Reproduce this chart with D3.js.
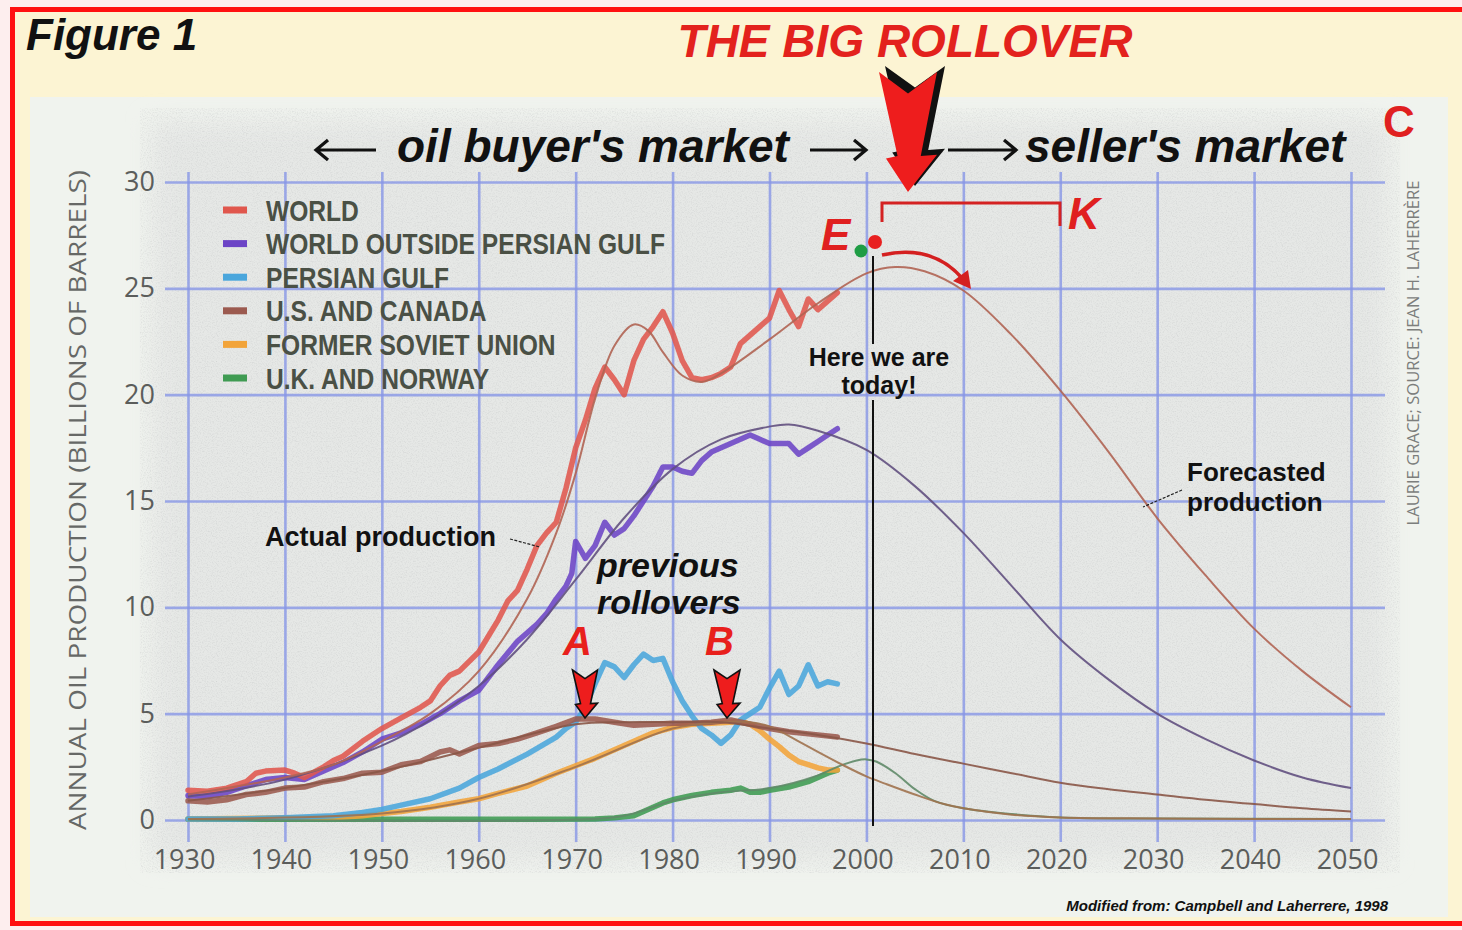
<!DOCTYPE html>
<html>
<head>
<meta charset="utf-8">
<script src="https://cdn.jsdelivr.net/npm/d3@7"></script>
<style>
  html, body { margin: 0; padding: 0; background: #fdeeee; }
  svg { display: block; }
</style>
</head>
<body>
<svg width="1462" height="930"></svg>
<script>
// ---- data (billions of barrels per year) ----
const yearTicks = [1930, 1940, 1950, 1960, 1970, 1980, 1990, 2000, 2010, 2020, 2030, 2040, 2050]
const valueTicks = [0, 5, 10, 15, 20, 25, 30]

const legendNames = ['WORLD', 'WORLD OUTSIDE PERSIAN GULF', 'PERSIAN GULF', 'U.S. AND CANADA', 'FORMER SOVIET UNION', 'U.K. AND NORWAY']
const legendColors = ['#e0574d', '#6c44c6', '#4aa6dc', '#9b5a4f', '#f2a43a', '#3f9b52']

// actual production (thick lines)
const world = [[1930,1.4],[1932,1.35],[1934,1.5],[1936,1.8],[1937,2.2],[1938,2.3],[1940,2.35],[1941,2.2],[1942,2.0],[1944,2.5],[1945,2.8],[1946,3.0],[1948,3.7],[1950,4.3],[1952,4.8],[1954,5.3],[1955,5.6],[1956,6.3],[1957,6.8],[1958,7.0],[1960,7.9],[1962,9.4],[1963,10.3],[1964,10.8],[1965,11.8],[1966,12.9],[1967,13.5],[1968,14.0],[1969,15.6],[1970,17.5],[1971,18.8],[1972,20.3],[1973,21.3],[1974,20.7],[1975,20.0],[1976,21.6],[1977,22.6],[1978,23.2],[1979,23.9],[1980,22.9],[1981,21.6],[1982,20.8],[1983,20.7],[1984,20.8],[1985,21.0],[1986,21.3],[1987,22.4],[1988,22.8],[1989,23.2],[1990,23.6],[1991,24.9],[1992,24.0],[1993,23.2],[1994,24.5],[1995,24.0],[1996,24.4],[1997,24.8]]
const outsideGulf = [[1930,1.15],[1932,1.1],[1934,1.3],[1936,1.6],[1938,1.9],[1940,2.0],[1942,1.9],[1944,2.3],[1946,2.7],[1948,3.2],[1950,3.8],[1952,4.1],[1954,4.5],[1956,5.0],[1958,5.6],[1960,6.1],[1962,7.3],[1964,8.4],[1966,9.2],[1967,9.7],[1968,10.4],[1969,11.0],[1969.6,11.6],[1970,13.1],[1971,12.3],[1972,12.9],[1973,14.0],[1974,13.4],[1975,13.7],[1976,14.3],[1977,15.0],[1978,15.7],[1979,16.6],[1980,16.6],[1981,16.4],[1982,16.3],[1983,16.9],[1984,17.3],[1985,17.5],[1986,17.7],[1987,17.9],[1988,18.1],[1989,17.9],[1990,17.7],[1991,17.7],[1992,17.7],[1993,17.2],[1994,17.5],[1995,17.8],[1996,18.1],[1997,18.4]]
const persianGulf = [[1930,0.05],[1935,0.05],[1940,0.1],[1945,0.2],[1948,0.35],[1950,0.5],[1952,0.7],[1955,1.0],[1958,1.5],[1960,2.0],[1962,2.4],[1965,3.1],[1968,3.9],[1969,4.3],[1970,4.6],[1971,5.3],[1972,6.4],[1973,7.4],[1974,7.2],[1975,6.7],[1976,7.3],[1977,7.8],[1978,7.5],[1979,7.6],[1980,6.5],[1981,5.6],[1982,4.9],[1983,4.3],[1984,4.0],[1985,3.6],[1986,4.0],[1987,4.7],[1988,5.0],[1989,5.3],[1990,6.2],[1991,7.0],[1992,5.9],[1993,6.3],[1994,7.3],[1995,6.3],[1996,6.5],[1997,6.4]]
const usCanada = [[1930,0.9],[1932,0.85],[1934,0.95],[1936,1.2],[1938,1.3],[1940,1.5],[1942,1.55],[1944,1.8],[1946,1.95],[1948,2.2],[1950,2.25],[1952,2.6],[1954,2.75],[1956,3.2],[1957,3.3],[1958,3.1],[1960,3.5],[1962,3.6],[1964,3.8],[1966,4.1],[1968,4.4],[1970,4.75],[1972,4.75],[1974,4.6],[1976,4.45],[1978,4.5],[1980,4.55],[1982,4.55],[1984,4.6],[1986,4.7],[1988,4.5],[1990,4.3],[1992,4.15],[1994,4.05],[1997,3.9]]
const sovietUnion = [[1930,0.05],[1940,0.1],[1945,0.1],[1948,0.2],[1950,0.3],[1952,0.4],[1955,0.6],[1958,0.85],[1960,1.0],[1962,1.25],[1965,1.6],[1968,2.2],[1970,2.55],[1972,2.9],[1974,3.3],[1976,3.7],[1978,4.1],[1980,4.35],[1982,4.5],[1984,4.55],[1986,4.6],[1987,4.65],[1988,4.5],[1989,4.2],[1990,3.8],[1991,3.45],[1992,3.05],[1993,2.75],[1994,2.6],[1995,2.45],[1996,2.35],[1997,2.35]]
const ukNorway = [[1930,0.03],[1965,0.03],[1972,0.05],[1974,0.1],[1976,0.2],[1977,0.4],[1978,0.6],[1979,0.8],[1980,0.95],[1982,1.15],[1984,1.3],[1986,1.4],[1987,1.5],[1988,1.3],[1989,1.3],[1990,1.4],[1992,1.55],[1994,1.8],[1995,2.0],[1996,2.2],[1997,2.35]]

// fitted and forecasted production (thin lines)
const worldFit = [[1930,1.2],[1940,2.0],[1945,2.6],[1950,3.7],[1955,5.0],[1960,7.0],[1965,10.4],[1968,13.5],[1970,16.3],[1972,19.8],[1974,22.3],[1976,23.3],[1977.5,23.0],[1979,22.0],[1981,20.9],[1983,20.6],[1985,21.0],[1990,22.6],[1995,24.3],[2000,25.7],[2003,26.0],[2006,25.8],[2010,24.9],[2015,22.8],[2020,20.2],[2025,17.3],[2030,14.2],[2035,11.5],[2040,9.0],[2045,7.0],[2050,5.3]]
const outsideGulfFit = [[1930,1.1],[1940,1.9],[1950,3.5],[1955,4.7],[1960,6.3],[1965,8.5],[1970,11.3],[1975,14.2],[1980,16.5],[1985,17.9],[1990,18.5],[1992,18.6],[1995,18.3],[2000,17.4],[2005,15.7],[2010,13.5],[2015,11.0],[2020,8.5],[2025,6.6],[2030,5.0],[2035,3.8],[2040,2.8],[2045,2.0],[2050,1.5]]
const usCanadaFit = [[1930,0.9],[1940,1.5],[1950,2.3],[1960,3.4],[1970,4.5],[1975,4.6],[1980,4.6],[1985,4.6],[1990,4.3],[1995,4.0],[2000,3.6],[2005,3.1],[2010,2.65],[2015,2.2],[2020,1.75],[2025,1.45],[2030,1.2],[2035,0.95],[2040,0.75],[2045,0.55],[2050,0.4]]
const sovietUnionFit = [[1930,0.05],[1950,0.3],[1960,1.0],[1970,2.5],[1980,4.3],[1985,4.6],[1988,4.6],[1990,4.4],[1993,3.7],[1995,3.2],[1997.5,2.6],[2000,2.05],[2002,1.7],[2005,1.2],[2008,0.75],[2010,0.55],[2015,0.25],[2020,0.12],[2030,0.07],[2040,0.05],[2050,0.05]]
const ukNorwayFit = [[1930,0.02],[1970,0.02],[1975,0.2],[1980,0.9],[1985,1.3],[1990,1.5],[1995,2.1],[1997,2.5],[1999,2.8],[2000,2.85],[2001,2.75],[2003,2.2],[2005,1.45],[2007,0.9],[2010,0.55],[2015,0.28],[2020,0.12],[2030,0.07],[2050,0.05]]

const actualSeries = [ukNorway, sovietUnion, persianGulf, usCanada, outsideGulf, world]
const actualColors = ['#3f9b52', '#f2a43a', '#4aa6dc', '#9b5a4f', '#6c44c6', '#e0574d']
const fitSeries = [ukNorwayFit, sovietUnionFit, usCanadaFit, outsideGulfFit, worldFit]
const fitColors = ['#5f8a68', '#a0724e', '#8a5647', '#62507f', '#b06453']

const svg = d3.select('svg')
const defs = svg.append('defs')

// paper grain
const grain = defs.append('filter').attr('id', 'grain')
  .attr('filterUnits', 'userSpaceOnUse')
  .attr('x', 140).attr('y', 108).attr('width', 1260).attr('height', 765)
grain.append('feTurbulence').attr('type', 'fractalNoise').attr('baseFrequency', 0.8)
  .attr('numOctaves', 3).attr('seed', 7).attr('result', 'noise')
grain.append('feColorMatrix').attr('type', 'matrix')
  .attr('values', '0 0 0 0 0.45  0 0 0 0 0.46  0 0 0 0 0.47  1.6 0 0 0 -0.7')
defs.append('filter').attr('id', 'soft')
  .attr('filterUnits', 'userSpaceOnUse')
  .attr('x', 0).attr('y', 0).attr('width', 1462).attr('height', 930)
  .append('feGaussianBlur').attr('stdDeviation', 12)

// backgrounds
svg.append('rect').attr('x', 13).attr('y', 9).attr('width', 1460).attr('height', 915).attr('fill', '#fcf4d3')
svg.append('rect').attr('x', 30).attr('y', 97).attr('width', 1418).attr('height', 820).attr('fill', '#f0f3ee')
svg.append('rect').attr('x', 152).attr('y', 122).attr('width', 1236).attr('height', 738)
  .attr('fill', '#e6e8e6').attr('filter', 'url(#soft)')
svg.append('rect').attr('x', 140).attr('y', 108).attr('width', 1260).attr('height', 765)
  .attr('filter', 'url(#grain)').attr('opacity', 0.4)

// scales
const x = d3.scaleLinear().domain([1930, 2050]).range([188, 1351])
const y = d3.scaleLinear().domain([0, 30]).range([820, 182])

// grid + axes
const yAxis = svg.append('g')
  .attr('transform', 'translate(1385,0)')
  .call(d3.axisLeft(y).tickValues(valueTicks).tickSize(1220).tickPadding(10))
const xAxis = svg.append('g')
  .attr('transform', 'translate(0,172)')
  .call(d3.axisBottom(x).tickValues(yearTicks).tickFormat(d3.format('d')).tickSize(670).tickPadding(8))
;[xAxis, yAxis].forEach(function (g) {
  g.select('.domain').remove()
  g.selectAll('line').attr('stroke', '#8796e6').attr('stroke-width', 2.6).attr('opacity', 0.8)
  g.selectAll('text').attr('font-family', '"Open Sans", sans-serif').attr('font-size', 27).attr('fill', '#5b5d5b')
})
xAxis.selectAll('text').attr('dx', -4)

// lines
const line = d3.line().x(d => x(d[0])).y(d => y(d[1]))
const smooth = d3.line().x(d => x(d[0])).y(d => y(d[1])).curve(d3.curveCatmullRom.alpha(0.5))

svg.append('g').selectAll('path').data(actualSeries).join('path')
  .attr('d', line)
  .attr('fill', 'none')
  .attr('stroke', (d, i) => actualColors[i])
  .attr('stroke-width', 5.5)
  .attr('stroke-linejoin', 'round')
  .attr('stroke-linecap', 'round')
  .attr('opacity', 0.88)

svg.append('g').selectAll('path').data(fitSeries).join('path')
  .attr('d', smooth)
  .attr('fill', 'none')
  .attr('stroke', (d, i) => fitColors[i])
  .attr('stroke-width', 2)
  .attr('opacity', 0.9)

// legend (condensed bold caps)
const legend = svg.append('g')
legendNames.forEach(function (name, i) {
  const yy = 210 + i * 33.6
  legend.append('line').attr('x1', 223).attr('x2', 247).attr('y1', yy).attr('y2', yy)
    .attr('stroke', legendColors[i]).attr('stroke-width', 7)
  legend.append('text')
    .attr('transform', 'translate(266,' + (yy + 10.5) + ') scale(0.82,1)')
    .attr('font-family', '"Liberation Sans", Arial, sans-serif')
    .attr('font-weight', 'bold').attr('font-size', 30).attr('fill', '#4a5045')
    .text(name)
})

// axis titles / credits
svg.append('text')
  .attr('transform', 'translate(86,500) rotate(-90)')
  .attr('text-anchor', 'middle')
  .attr('font-family', '"Open Sans", sans-serif').attr('font-size', 23).attr('fill', '#666866')
  .attr('textLength', 660).attr('lengthAdjust', 'spacingAndGlyphs')
  .text('ANNUAL OIL PRODUCTION (BILLIONS OF BARRELS)')
svg.append('text')
  .attr('transform', 'translate(1419,353) rotate(-90)')
  .attr('text-anchor', 'middle')
  .attr('font-family', '"Open Sans", sans-serif').attr('font-size', 17).attr('fill', '#7c7e7c')
  .attr('textLength', 345).attr('lengthAdjust', 'spacingAndGlyphs')
  .text('LAURIE GRACE; SOURCE: JEAN H. LAHERRÈRE')

function label(tx, ty, str, size, opts) {
  opts = opts || {}
  return svg.append('text').attr('x', tx).attr('y', ty)
    .attr('font-family', '"Liberation Sans", Arial, sans-serif')
    .attr('font-weight', 'bold')
    .attr('font-style', opts.italic ? 'italic' : 'normal')
    .attr('font-size', size)
    .attr('fill', opts.fill || '#111')
    .attr('text-anchor', opts.anchor || 'start')
    .text(str)
}

label(26, 50, 'Figure 1', 44, { italic: true })
label(905, 57, 'THE BIG ROLLOVER', 46, { italic: true, fill: '#e3221d', anchor: 'middle' })
label(397, 162, "oil buyer's market", 46, { italic: true })
label(1025, 162, "seller's market", 46, { italic: true })
label(1383, 137, 'C', 44, { fill: '#e02020' })
label(821, 250, 'E', 44, { italic: true, fill: '#e02020' })
label(1068, 229, 'K', 44, { italic: true, fill: '#e02020' })
label(563, 655, 'A', 40, { italic: true, fill: '#e8201c' })
label(705, 655, 'B', 40, { italic: true, fill: '#e8201c' })
label(597, 577, 'previous', 34, { italic: true })
label(597, 614, 'rollovers', 34, { italic: true })
label(265, 546, 'Actual production', 27)
label(879, 366, 'Here we are', 25, { anchor: 'middle' })
label(879, 394, 'today!', 25, { anchor: 'middle' })
label(1187, 481, 'Forecasted', 26)
label(1187, 511, 'production', 26)
label(1388, 911, 'Modified from: Campbell and Laherrere, 1998', 15, { italic: true, anchor: 'end' })

// horizontal market arrows
function hArrow(x1, x2, yy, headRight) {
  const hx = headRight ? x2 : x1
  const s = headRight ? -1 : 1
  svg.append('path')
    .attr('d', 'M' + x1 + ',' + yy + 'H' + x2 + 'M' + (hx + s * 12) + ',' + (yy - 10) + 'L' + hx + ',' + yy + 'L' + (hx + s * 12) + ',' + (yy + 10))
    .attr('fill', 'none').attr('stroke', '#111').attr('stroke-width', 3.2)
}
hArrow(316, 376, 150, false)
hArrow(810, 866, 150, true)
hArrow(948, 1016, 150, true)

// notched down arrows
function downArrow(cx, top, w, h) {
  const p = [[-w / 2, 0], [0, h * 0.18], [w / 2, 0], [w * 0.22, h * 0.7], [w * 0.5, h * 0.69], [0, h], [-w * 0.38, h * 0.72], [-w * 0.18, h * 0.7]]
  return 'M' + p.map(d => (cx + d[0]) + ',' + (top + d[1])).join('L') + 'Z'
}
svg.append('path').attr('d', downArrow(915, 66, 60, 120)).attr('fill', '#111')
svg.append('path').attr('d', downArrow(908, 72, 58, 120)).attr('fill', '#ee1d1d')
svg.append('path').attr('d', downArrow(585, 670, 25, 48)).attr('fill', '#ee1d1d').attr('stroke', '#111').attr('stroke-width', 1.6)
svg.append('path').attr('d', downArrow(727, 670, 26, 48)).attr('fill', '#ee1d1d').attr('stroke', '#111').attr('stroke-width', 1.6)

// K bracket
svg.append('path').attr('d', 'M882,222V203H1060V226')
  .attr('fill', 'none').attr('stroke', '#d42222').attr('stroke-width', 3)

// "today" marker line
svg.append('line').attr('x1', 873).attr('x2', 873).attr('y1', 256).attr('y2', 344).attr('stroke', '#111').attr('stroke-width', 2)
svg.append('line').attr('x1', 873).attr('x2', 873).attr('y1', 400).attr('y2', 826).attr('stroke', '#111').attr('stroke-width', 2)

// dots and curved arrow
svg.append('circle').attr('cx', 861).attr('cy', 251).attr('r', 6.5).attr('fill', '#1f9d45')
svg.append('circle').attr('cx', 875).attr('cy', 242).attr('r', 7).attr('fill', '#e82020')
svg.append('path').attr('d', 'M882,255Q932,244 962,278')
  .attr('fill', 'none').attr('stroke', '#d42020').attr('stroke-width', 3.5)
svg.append('path').attr('d', 'M953,281L971,289L968,270Z').attr('fill', '#d42020')

// leader lines
svg.append('path').attr('d', 'M510,539L540,547').attr('stroke', '#222').attr('stroke-width', 1.2).attr('stroke-dasharray', '3,1.5')
svg.append('path').attr('d', 'M1182,490L1143,507').attr('stroke', '#222').attr('stroke-width', 1.2).attr('stroke-dasharray', '3,1.5')

// frame
svg.append('rect').attr('x', 12.5).attr('y', 9.5).attr('width', 1470).attr('height', 914)
  .attr('fill', 'none').attr('stroke', '#ff1010').attr('stroke-width', 5)
</script>
</body>
</html>
